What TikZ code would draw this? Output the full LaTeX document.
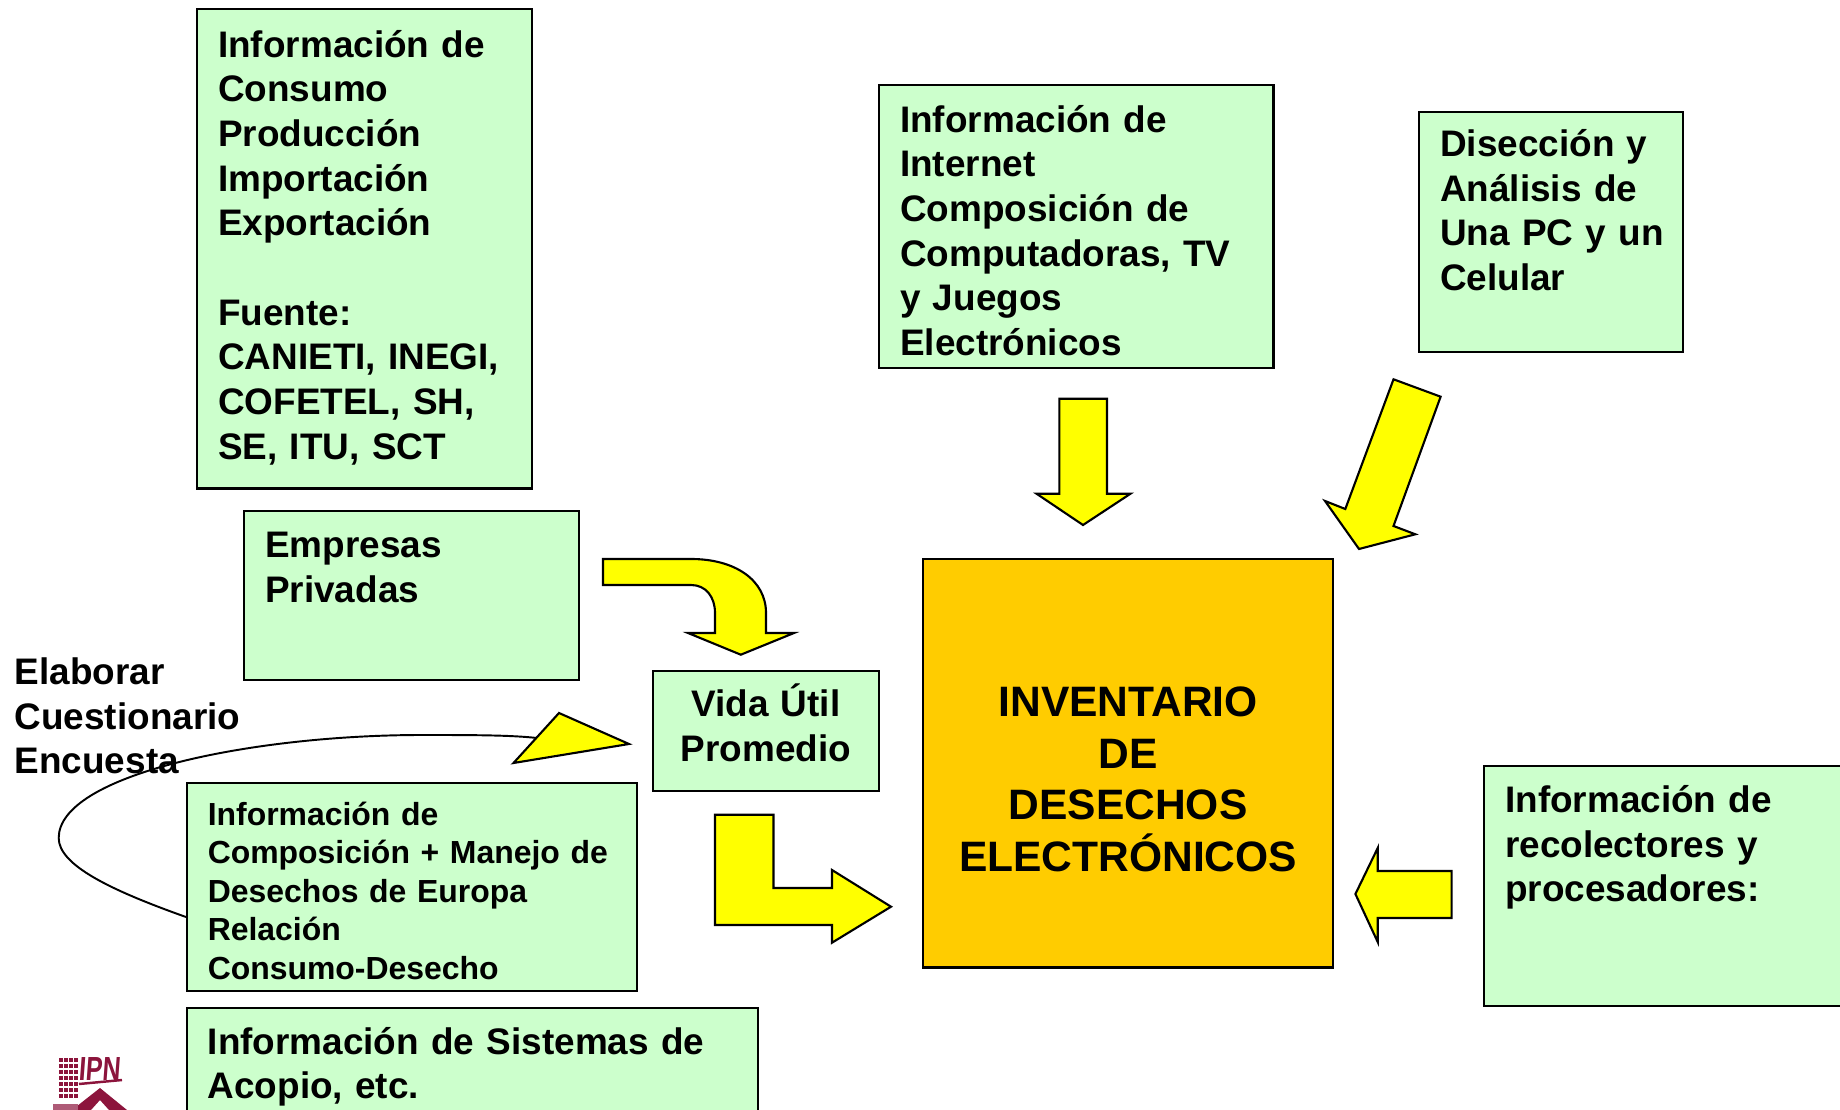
\documentclass[tikz,border=0pt]{standalone}
\usepackage{fontspec}
\setmainfont{Liberation Sans}
\definecolor{boxgreen}{RGB}{204,255,204}
\definecolor{boxorange}{RGB}{255,204,0}
\definecolor{arrowyellow}{RGB}{255,255,0}
\definecolor{logored}{RGB}{140,20,60}
\tikzset{
    infobox/.style={draw=black,fill=boxgreen,line width=0.65pt,anchor=north west,align=left,inner xsep=0.21cm,inner ysep=0pt,font=\fontsize{10.5}{12.7}\selectfont\bfseries},
    smallbox/.style={infobox,font=\fontsize{9.08}{10.97}\selectfont\bfseries},
    mainbox/.style={draw=black,fill=boxorange,line width=0.65pt,anchor=north west,align=center,inner sep=0pt,font=\fontsize{12.1}{14.65}\selectfont\bfseries},
    blockarrow/.style={draw=black,fill=arrowyellow,line width=0.6pt,line join=miter},
    sidetext/.style={anchor=north west,align=left,inner sep=0pt,font=\fontsize{10.5}{12.7}\selectfont\bfseries}
}
\begin{document}
\begin{tikzpicture}[x=0.01cm,y=-0.01cm]
            \useasboundingbox (0,0) rectangle (1840,1110);
            \clip (0,0) rectangle (1840,1110);

            % The loop goes under everything else
            \coordinate (c1) at (186,917);
            \coordinate (c2) at (537,738);
            \draw[line width=0.55pt] (c1) .. controls (110,890) and (58.7,865) .. (58.7,838) .. controls (58.7,775) and (250,735) .. (422,735) .. controls (470,735) and (510,735) .. (c2);

            % Place the boxes
            \node[infobox,text width=2.93cm,minimum height=4.79cm] (inf) at (196,8) {Información de\\Consumo\\Producción\\Importación\\Exportación\\~\\Fuente:\\CANIETI, INEGI,\\COFETEL, SH,\\SE, ITU, SCT\\[-10.4pt]~};
            \node[infobox,text width=3.52cm,minimum height=2.83cm] (net) at (878,84) {\rule{0pt}{9.8pt}Información de\\Internet\\Composición de\\Computadoras, TV\\y Juegos\\Electrónicos};
            \node[infobox,text width=2.22cm,minimum height=2.40cm] (dis) at (1418,111) {Disección y\\Análisis de\\\mbox{Una PC y un}\\Celular\\~};
            \node[infobox,text width=2.93cm,minimum height=1.69cm] (emp) at (243,510) {Empresas\\Privadas\\[1.2mm]~};
            \node[infobox,align=center,text width=1.84cm,minimum height=1.20cm] (vida) at (651.6,670) {Vida Útil\\Promedio\\[-8pt]~};
            \node[smallbox,text width=4.08cm,minimum height=2.08cm] (comp) at (185.6,782) {\rule{0pt}{8.6pt}Información de\\Composición + Manejo de\\Desechos de Europa\\Relación\\Consumo-Desecho};
            \node[infobox,text width=5.29cm,minimum height=1.54cm] (sis) at (185.6,1007) {Información de Sistemas de\\Acopio, etc.\\~};
            \node[infobox,text width=3.58cm,minimum height=2.395cm] (rec) at (1483,765) {\rule{0pt}{9pt}Información de\\recolectores y\\procesadores:\\~\\~};
            \node[mainbox,text width=4.10cm,minimum height=4.08cm] (inv) at (921.8,558) {\rule{0pt}{17.5pt}INVENTARIO\\DE\\DESECHOS\\ELECTRÓNICOS};
            \node[sidetext] (enc) at (14,657) {Elaborar\\Cuestionario\\Encuesta};

            % The block arrows
            \draw[blockarrow] (1059.4,398.7) -- (1107,398.7) -- (1107,493.7) -- (1130.5,493.7) -- (1083,525) -- (1036.5,493.7) -- (1059.4,493.7) -- cycle;
            \draw[blockarrow] (1393.5,379.3) -- (1440.6,396.7) -- (1393.5,526) -- (1415.3,534.3) -- (1359,549) -- (1325,501) -- (1345.3,509) -- cycle;
            \draw[blockarrow] (603,559) -- (691,559) .. controls (735,559) and (766,580) .. (766,613) -- (766,633) -- (794,633) -- (740.8,654.7) -- (688,633) -- (715,633) -- (715,613) .. controls (715,597) and (706,585) .. (691,585) -- (603,585) -- cycle;
            \draw[blockarrow] (715,814.7) -- (773.5,814.7) -- (773.5,888) -- (832,888) -- (832,870) -- (891,906.7) -- (832,942.7) -- (832,925) -- (715,925) -- cycle;
            \draw[blockarrow] (1451.6,871) -- (1451.6,918) -- (1377.7,918) -- (1377.7,942) -- (1355.4,894) -- (1377.7,848) -- (1377.7,871) -- cycle;
            \draw[blockarrow] (629,744) -- (559,713) -- (513.5,763) -- cycle;

            % The logo
            \foreach \i in {0,...,3}
                \foreach \j in {0,...,6}
                    \fill[logored] (59+\i*5,1058+\j*6) rectangle ++(3.6,4.4);
            \node[text=logored,inner sep=0pt,xscale=0.75,xslant=0.1,font=\fontsize{9.5}{10}\selectfont\bfseries] (ipn) at (100,1069) {IPN};
            \draw[logored,line width=0.7pt] (79,1084) -- (122,1080);
            \fill[logored] (100,1088) -- (127,1110) -- (109,1110) -- (100,1100) -- (91,1110) -- (72,1110) -- cycle;
            \fill[logored!70] (53,1104) rectangle (78,1110);
        \end{tikzpicture}
\end{document}
